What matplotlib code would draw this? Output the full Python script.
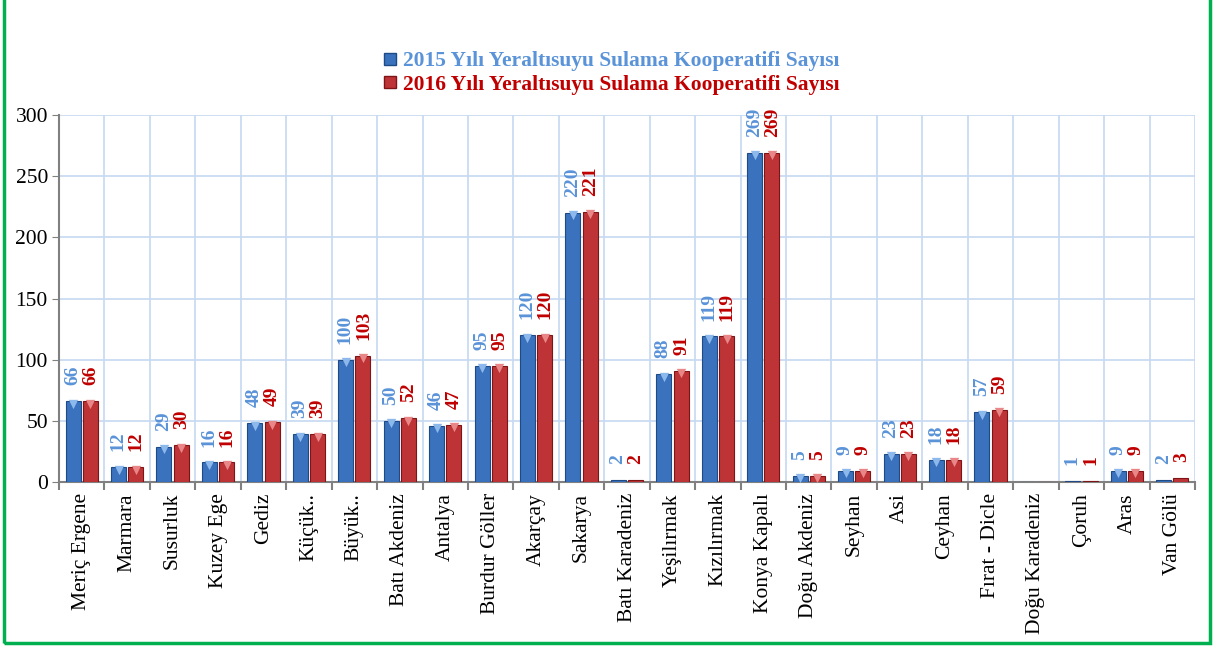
import matplotlib
matplotlib.use("Agg")
import matplotlib.pyplot as plt
import numpy as np
from matplotlib.patches import Rectangle
from matplotlib.lines import Line2D

categories = ["Meriç Ergene", "Marmara", "Susurluk", "Kuzey Ege", "Gediz", "Küçük..",
              "Büyük..", "Batı Akdeniz", "Antalya", "Burdur Göller", "Akarçay", "Sakarya",
              "Batı Karadeniz", "Yeşilırmak", "Kızılırmak", "Konya Kapalı", "Doğu Akdeniz",
              "Seyhan", "Asi", "Ceyhan", "Fırat - Dicle", "Doğu Karadeniz", "Çoruh", "Aras",
              "Van Gölü"]
v2015 = [66, 12, 29, 16, 48, 39, 100, 50, 46, 95, 120, 220, 2, 88, 119, 269, 5, 9, 23, 18, 57, 0, 1, 9, 2]
v2016 = [66, 12, 30, 16, 49, 39, 103, 52, 47, 95, 120, 221, 2, 91, 119, 269, 5, 9, 23, 18, 59, 0, 1, 9, 3]
label2015 = "2015 Yılı Yeraltısuyu Sulama Kooperatifi Sayısı"
label2016 = "2016 Yılı Yeraltısuyu Sulama Kooperatifi Sayısı"

serif = ["Liberation Serif", "DejaVu Serif"]
plt.rcParams['font.family'] = serif

fig = plt.figure(figsize=(12.23, 6.48), dpi=100)
ax = fig.add_axes([59/1223, 1-482/648, (1195-59)/1223, (482-115)/648])

x = np.arange(len(categories))
w = 0.33
off = 0.19
blue_c, blue_e = "#3A72BE", "#1E4A85"
red_c, red_e = "#BE3436", "#7E1416"
ax.bar(x - off, v2015, w, color=blue_c, edgecolor=blue_e, linewidth=0.8, zorder=3)
ax.bar(x + off, v2016, w, color=red_c, edgecolor=red_e, linewidth=0.8, zorder=3)

# top highlights (bevel look)
a15 = np.array(v2015, dtype=float)
a16 = np.array(v2016, dtype=float)
m15 = a15 >= 5
m16 = a16 >= 5
ax.scatter(x[m15] - off, a15[m15] - 2, marker="v", s=45, color="#8DB8EC", zorder=4, linewidths=0)
ax.scatter(x[m16] + off, a16[m16] - 2, marker="v", s=45, color="#E88688", zorder=4, linewidths=0)

lab_blue = "#5B93D8"
lab_red = "#C00000"
for xi, a, b in zip(x, v2015, v2016):
    if a > 0:
        ax.text(xi - 0.2, a + 13, str(a), rotation=90, ha="center", va="bottom",
                fontsize=14, fontweight="bold", color=lab_blue, zorder=4)
    if b > 0:
        ax.text(xi + 0.2, b + 13, str(b), rotation=90, ha="center", va="bottom",
                fontsize=14, fontweight="bold", color=lab_red, zorder=4)

ax.set_xlim(-0.5, len(categories) - 0.5)
ax.set_ylim(0, 300)
ax.set_yticks([0, 50, 100, 150, 200, 250, 300])
ax.tick_params(axis="y", labelsize=15.5, length=5, color="#808080", pad=3)
ax.set_xticks(x)
ax.set_xticklabels(categories, rotation=90, fontsize=15.5)
ax.tick_params(axis="x", which="major", length=0, pad=8)
ax.set_xticks(np.arange(-0.5, len(categories), 1), minor=True)
ax.tick_params(axis="x", which="minor", length=6, color="#808080", width=1.5)
ax.grid(True, axis="y", color="#C6D9F1", linewidth=1.2, zorder=0)
ax.grid(True, axis="x", which="minor", color="#C6D9F1", linewidth=1.2, zorder=0)
ax.set_axisbelow(True)
for s in ["top", "right"]:
    ax.spines[s].set_visible(False)
for s in ["left", "bottom"]:
    ax.spines[s].set_color("#808080")
    ax.spines[s].set_linewidth(1.5)

handles = [Line2D([], [], marker="s", linestyle="none", markersize=8,
                  markerfacecolor=blue_c, markeredgecolor=blue_e),
           Line2D([], [], marker="s", linestyle="none", markersize=8,
                  markerfacecolor=red_c, markeredgecolor=red_e)]
leg = fig.legend(handles, [label2015, label2016], loc="center", bbox_to_anchor=(0.5, 1-73/648),
                 frameon=False, prop={"family": serif, "weight": "bold", "size": 15.5},
                 handlelength=0.6, handletextpad=0.3, labelspacing=0.15, borderpad=0)
for t, c in zip(leg.get_texts(), [lab_blue, lab_red]):
    t.set_color(c)

fig.patches.append(Rectangle((4/1223, 5/648), (1210-4)/1223, (648-5)/648 + 0.01,
                             transform=fig.transFigure, fill=False,
                             edgecolor="#00B050", linewidth=2.5, clip_on=False))

fig.savefig("out.png", dpi=100)
